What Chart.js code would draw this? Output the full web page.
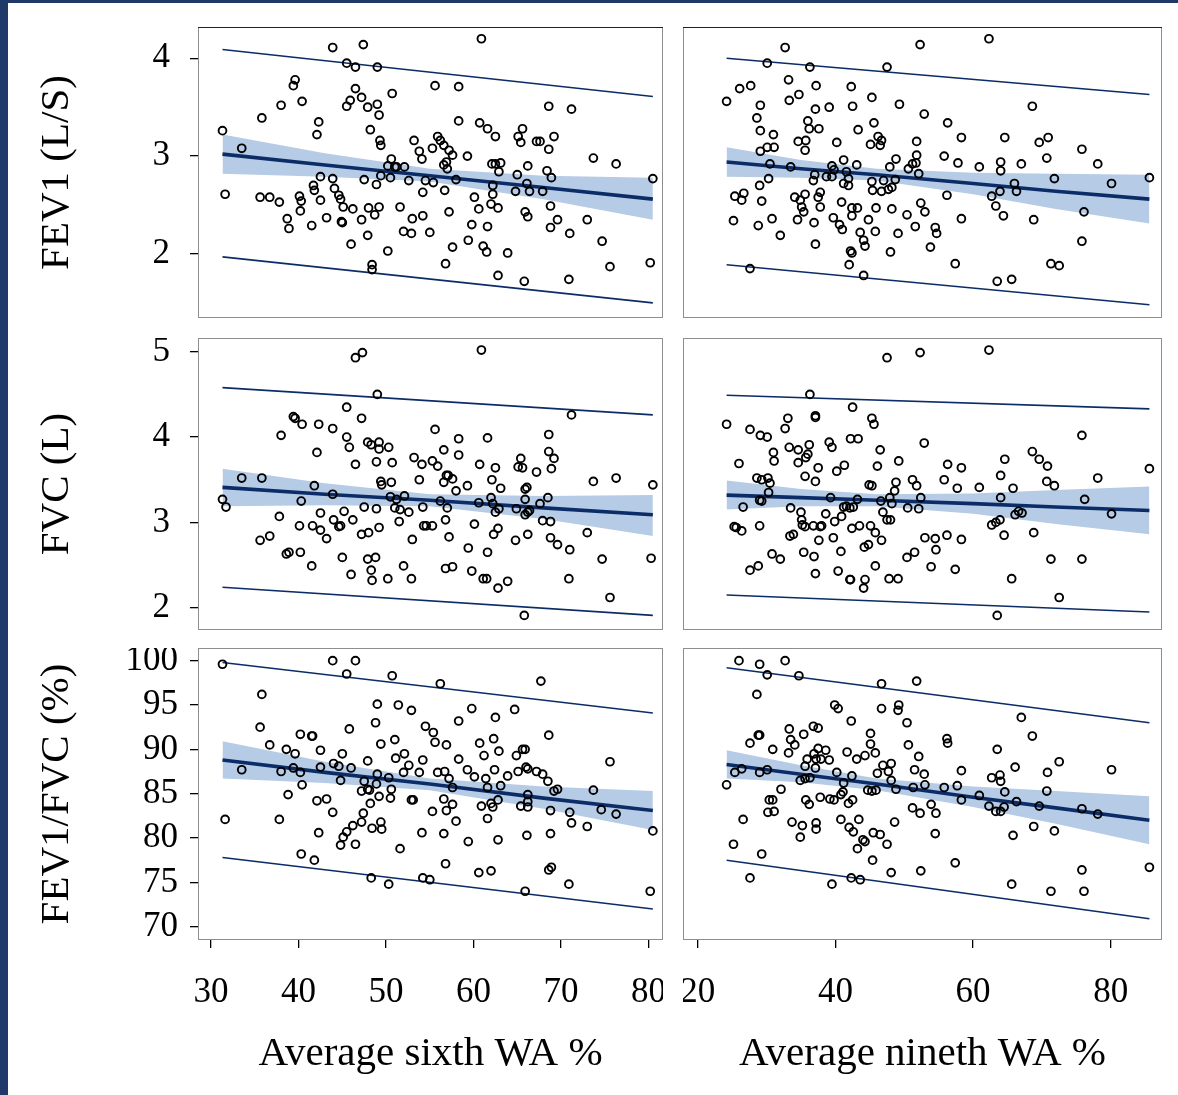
<!DOCTYPE html>
<html>
<head>
<meta charset="utf-8">
<title>FEV1, FVC and FEV1/FVC against airway wall area</title>
<script src="https://cdn.jsdelivr.net/npm/chart.js@4.4.1/dist/chart.umd.min.js"></script>
<style>
  html, body { margin: 0; padding: 0; background: #fff; }
  #sheet { position: relative; width: 1178px; height: 1095px; overflow: hidden; background: #fff; }
  #sheet canvas { position: absolute; }
  .rim { position: absolute; background: #1f3a68; }
</style>
</head>
<body>
<div id="sheet">
  <div class="rim" style="left:0;top:0;width:1178px;height:3px"></div>
  <div class="rim" style="left:0;top:0;width:8px;height:1095px"></div>
  <canvas id="fev1Sixth"   width="653" height="291" style="left:10px;top:27px"></canvas>
  <canvas id="fev1Nineth"  width="479" height="291" style="left:683px;top:27px"></canvas>
  <canvas id="fvcSixth"    width="653" height="292" style="left:10px;top:338px"></canvas>
  <canvas id="fvcNineth"   width="479" height="292" style="left:683px;top:338px"></canvas>
  <canvas id="ratioSixth"  width="653" height="447" style="left:10px;top:648px"></canvas>
  <canvas id="ratioNineth" width="479" height="447" style="left:683px;top:648px"></canvas>
</div>
<script>
// ---- axis ticks and ranges ----
const sixthTicks  = [30, 40, 50, 60, 70, 80];
const ninethTicks = [20, 40, 60, 80];
const fev1Ticks   = [2, 3, 4];
const fvcTicks    = [2, 3, 4, 5];
const ratioTicks  = [70, 75, 80, 85, 90, 95, 100];

const sixthRange  = [28.5, 81.66];
const ninethRange = [17.87, 87.43];
const fev1Range   = [1.345, 4.32];
const fvcRange    = [1.739, 5.161];
const ratioRange  = [68.5, 101.43];

// x span of the fitted lines (observed min / max WA %)
const sixthLineX  = [31.3, 80.5];
const ninethLineX = [24.2, 85.6];

// ---- FEV1 vs sixth-generation WA % ----
const fev1SixthPoints = [
  [43.9,4.11],[47.4,4.14],[45.5,3.95],[46.5,3.91],[49.0,3.91],[39.6,3.78],[39.4,3.72],[46.5,3.69],[50.7,3.64],[47.2,3.60],
  [45.9,3.57],[40.4,3.56],[45.5,3.51],[47.9,3.50],[49.0,3.53],[38.0,3.52],[49.2,3.42],[35.8,3.39],[42.3,3.35],[48.2,3.27],
  [42.1,3.22],[31.3,3.26],[49.3,3.16],[49.4,3.11],[53.2,3.16],[53.8,3.05],[54.1,2.97],[33.5,3.08],[50.6,2.97],[50.2,2.90],
  [51.0,2.89],[51.2,2.89],[52.1,2.89],[42.5,2.79],[43.9,2.77],[47.5,2.76],[49.4,2.80],[50.5,2.78],[52.6,2.75],[54.5,2.75],
  [48.9,2.71],[41.7,2.70],[41.8,2.65],[44.1,2.67],[44.6,2.60],[44.8,2.56],[45.1,2.48],[31.6,2.61],[35.6,2.58],[36.7,2.58],
  [37.8,2.53],[40.1,2.59],[40.3,2.54],[42.5,2.55],[40.2,2.44],[46.2,2.46],[48.0,2.47],[49.2,2.48],[48.7,2.40],[51.6,2.48],
  [54.2,2.63],[38.7,2.36],[38.9,2.26],[41.5,2.29],[43.2,2.37],[44.9,2.33],[45.0,2.32],[47.2,2.35],[47.9,2.19],[52.0,2.23],
  [52.9,2.21],[53.0,2.36],[54.2,2.39],[55.0,2.22],[46.0,2.10],[50.2,2.03],[48.4,1.89],[48.4,1.84],
  [60.9,4.20],[55.6,3.72],[58.3,3.71],[68.6,3.51],[71.2,3.48],[58.3,3.36],[60.7,3.34],[61.6,3.28],[62.5,3.20],[65.6,3.28],
  [65.1,3.20],[65.4,3.14],[67.2,3.15],[67.6,3.15],[69.2,3.20],[68.6,3.07],[55.9,3.20],[56.2,3.16],[56.6,3.11],[55.3,3.08],
  [57.2,3.06],[57.6,3.01],[59.3,3.00],[56.9,2.94],[56.6,2.91],[57.0,2.87],[73.7,2.98],[76.3,2.92],[62.1,2.92],[62.5,2.92],
  [63.1,2.93],[62.9,2.84],[66.2,2.90],[65.0,2.81],[68.4,2.85],[68.9,2.78],[80.5,2.77],[58.0,2.76],[55.4,2.73],[56.7,2.65],
  [62.2,2.70],[62.2,2.61],[62.0,2.51],[62.8,2.47],[60.1,2.58],[60.6,2.46],[66.1,2.72],[66.4,2.64],[64.8,2.64],[67.9,2.64],
  [68.8,2.49],[57.2,2.43],[65.9,2.43],[66.2,2.38],[69.6,2.35],[68.8,2.27],[71.0,2.21],[73.0,2.35],[74.7,2.13],[59.8,2.30],
  [61.6,2.28],[59.4,2.14],[61.1,2.08],[61.5,2.02],[63.9,2.01],[57.6,2.07],[56.8,1.90],[62.8,1.78],[65.8,1.72],[70.9,1.74],
  [75.6,1.87],[80.2,1.91]
];
const fev1SixthBandX    = [31.3, 43, 55, 68, 80.5];
const fev1SixthFit      = [3.02, 2.91, 2.80, 2.68, 2.56];
const fev1SixthBandLow  = [2.82, 2.79, 2.74, 2.56, 2.35];
const fev1SixthBandHigh = [3.22, 3.03, 2.87, 2.80, 2.78];
const fev1SixthPredHigh = [4.09, 3.61];
const fev1SixthPredLow  = [1.97, 1.50];

// ---- FEV1 vs ninth-generation WA % ----
const fev1NinethPoints = [
  [32.7,4.11],[30.1,3.95],[36.3,3.91],[47.5,3.91],[33.2,3.78],[37.2,3.72],[26.1,3.69],[27.7,3.72],[24.2,3.56],[33.3,3.57],
  [34.7,3.63],[42.3,3.71],[45.3,3.60],[29.1,3.52],[37.1,3.48],[39.1,3.50],[42.5,3.51],[49.3,3.53],[28.6,3.39],[29.1,3.26],
  [31.0,3.22],[36.0,3.36],[36.2,3.28],[37.6,3.28],[43.3,3.27],[45.6,3.34],[34.6,3.15],[35.7,3.16],[35.6,3.06],[40.2,3.14],
  [46.2,3.20],[46.7,3.16],[45.1,3.12],[46.5,3.11],[29.1,3.05],[30.1,3.09],[31.1,3.09],[30.5,2.92],[33.5,2.89],[30.3,2.77],
  [29.0,2.70],[41.2,2.96],[43.1,2.91],[39.5,2.90],[39.8,2.86],[41.6,2.84],[38.7,2.79],[39.5,2.79],[37.0,2.81],[36.8,2.75],
  [41.2,2.72],[41.9,2.77],[41.9,2.70],[45.3,2.74],[47.0,2.75],[48.7,2.76],[47.9,2.89],[48.8,2.97],[50.6,2.87],[51.2,2.92],
  [45.4,2.65],[46.7,2.64],[47.7,2.66],[48.2,2.68],[25.4,2.59],[26.7,2.62],[26.4,2.55],[29.3,2.54],[34.1,2.58],[34.9,2.55],
  [35.6,2.61],[35.1,2.48],[35.4,2.43],[37.5,2.58],[37.8,2.63],[37.8,2.48],[40.9,2.53],[42.4,2.47],[43.2,2.47],[45.9,2.47],
  [48.2,2.46],[25.2,2.34],[28.8,2.29],[30.8,2.36],[32.0,2.19],[34.5,2.35],[36.9,2.32],[39.7,2.37],[40.6,2.30],[41.0,2.25],
  [42.4,2.39],[43.6,2.22],[44.8,2.35],[45.8,2.23],[44.1,2.14],[44.3,2.08],[42.2,2.03],[42.4,2.01],[37.1,2.10],[48.0,2.02],
  [50.4,2.40],[49.1,2.21],[42.0,1.89],[44.1,1.78],[27.6,1.85],
  [52.3,4.14],[62.3,4.20],[52.9,3.43],[56.3,3.34],[58.3,3.19],[64.6,3.19],[68.6,3.51],[69.6,3.14],[70.9,3.19],[75.8,3.07],
  [78.1,2.92],[51.8,3.15],[51.8,3.01],[51.7,2.93],[52.1,2.82],[55.8,3.00],[57.8,2.93],[60.9,2.89],[64.0,2.94],[64.0,2.85],
  [67.0,2.92],[70.7,2.98],[71.8,2.77],[80.1,2.72],[85.6,2.78],[66.0,2.72],[66.3,2.64],[63.9,2.64],[62.7,2.59],[63.3,2.49],
  [64.4,2.39],[56.2,2.60],[52.4,2.52],[53.0,2.43],[51.6,2.28],[54.5,2.27],[54.7,2.21],[53.8,2.07],[58.3,2.36],[68.8,2.35],
  [76.1,2.43],[75.8,2.13],[57.4,1.90],[71.3,1.90],[72.5,1.88],[63.5,1.72],[65.6,1.74]
];
const fev1NinethBandX    = [24.2, 35, 46, 60, 72, 85.6];
const fev1NinethFit      = [2.94, 2.87, 2.81, 2.72, 2.64, 2.56];
const fev1NinethBandLow  = [2.79, 2.78, 2.75, 2.61, 2.46, 2.31];
const fev1NinethBandHigh = [3.09, 2.96, 2.87, 2.83, 2.82, 2.81];
const fev1NinethPredHigh = [4.00, 3.63];
const fev1NinethPredLow  = [1.89, 1.48];

// ---- FVC vs sixth-generation WA % ----
const fvcSixthPoints = [
  [46.5,4.93],[47.3,4.99],[49.0,4.50],[45.5,4.35],[47.2,4.22],[39.4,4.24],[39.6,4.22],[40.4,4.15],[42.3,4.15],[43.9,4.10],
  [38.0,4.02],[45.5,4.00],[45.8,3.88],[47.9,3.94],[48.3,3.91],[49.2,3.94],[49.2,3.86],[50.3,3.88],[42.1,3.82],[46.5,3.68],
  [48.9,3.71],[50.7,3.70],[53.2,3.76],[54.1,3.68],[53.8,3.50],[33.5,3.52],[35.8,3.52],[41.8,3.43],[43.9,3.33],[49.4,3.48],
  [49.5,3.44],[50.6,3.47],[50.5,3.30],[51.2,3.27],[52.1,3.31],[31.3,3.27],[31.7,3.18],[40.3,3.25],[42.5,3.11],[45.2,3.13],
  [47.5,3.18],[48.9,3.16],[51.0,3.17],[51.6,3.15],[52.6,3.12],[54.2,3.18],[37.8,3.07],[44.0,3.03],[46.2,3.03],[51.5,3.01],
  [40.1,2.96],[41.6,2.96],[42.5,2.91],[43.2,2.81],[44.6,2.95],[44.8,2.96],[47.2,2.86],[48.0,2.88],[49.2,2.94],[53.0,2.80],
  [54.3,2.96],[54.6,2.96],[35.6,2.79],[36.7,2.84],[38.6,2.63],[38.9,2.65],[40.2,2.65],[41.5,2.49],[45.0,2.59],[47.9,2.57],
  [48.8,2.59],[48.3,2.44],[48.4,2.32],[46.0,2.39],[50.2,2.34],[52.0,2.49],[52.9,2.34],
  [60.9,5.02],[71.2,4.26],[55.6,4.09],[58.3,3.98],[61.6,3.99],[68.6,4.03],[56.6,3.85],[58.3,3.79],[68.6,3.83],[69.2,3.75],
  [68.9,3.63],[55.3,3.72],[55.9,3.66],[60.7,3.68],[62.5,3.64],[65.4,3.75],[65.1,3.65],[65.6,3.64],[67.2,3.59],[56.9,3.55],
  [57.1,3.55],[57.6,3.51],[56.6,3.47],[58.0,3.37],[59.3,3.43],[62.1,3.50],[63.1,3.40],[66.1,3.41],[65.9,3.39],[73.7,3.48],
  [76.3,3.52],[80.5,3.44],[56.2,3.25],[57.0,3.17],[60.6,3.23],[62.0,3.29],[62.2,3.22],[62.9,3.16],[62.5,3.12],[64.9,3.16],
  [65.9,3.27],[67.6,3.22],[68.5,3.29],[65.9,3.09],[66.2,3.12],[66.4,3.14],[67.9,3.02],[68.8,3.01],[55.3,2.96],[56.8,3.03],
  [60.1,2.98],[62.8,2.93],[62.3,2.86],[66.2,2.86],[57.2,2.83],[68.8,2.82],[69.6,2.74],[71.0,2.68],[73.0,2.88],[64.8,2.79],
  [59.4,2.70],[61.6,2.65],[74.7,2.57],[80.3,2.58],[56.8,2.46],[57.6,2.48],[59.8,2.43],[61.1,2.34],[61.5,2.34],[62.8,2.23],
  [63.9,2.31],[70.9,2.34],[75.6,2.12],[65.8,1.91]
];
const fvcSixthBandX    = [31.3, 43, 55, 68, 80.5];
const fvcSixthFit      = [3.41, 3.33, 3.26, 3.17, 3.09];
const fvcSixthBandLow  = [3.19, 3.20, 3.19, 3.04, 2.84];
const fvcSixthBandHigh = [3.63, 3.46, 3.33, 3.31, 3.32];
const fvcSixthPredHigh = [4.58, 4.26];
const fvcSixthPredLow  = [2.24, 1.91];

// ---- FVC vs ninth-generation WA % ----
const fvcNinethPoints = [
  [47.5,4.93],[36.3,4.50],[37.1,4.25],[37.1,4.23],[42.5,4.35],[45.3,4.22],[45.6,4.15],[33.1,4.22],[32.7,4.10],[24.2,4.15],
  [27.6,4.09],[29.1,4.02],[30.1,4.00],[33.3,3.88],[34.6,3.85],[36.2,3.91],[36.0,3.80],[35.7,3.76],[39.1,3.94],[39.5,3.88],
  [42.2,3.98],[43.3,3.98],[46.5,3.85],[31.0,3.82],[31.1,3.72],[26.0,3.69],[34.6,3.70],[37.5,3.64],[40.2,3.60],[41.3,3.67],
  [46.1,3.66],[49.2,3.72],[35.6,3.54],[37.1,3.48],[28.6,3.52],[29.3,3.50],[30.2,3.52],[30.5,3.46],[30.3,3.35],[29.0,3.26],
  [29.3,3.25],[26.6,3.18],[44.9,3.44],[45.3,3.43],[48.8,3.47],[48.6,3.37],[51.2,3.50],[39.3,3.29],[43.2,3.27],[41.2,3.18],
  [41.6,3.19],[42.1,3.17],[42.6,3.18],[46.6,3.25],[47.9,3.29],[48.2,3.22],[50.5,3.17],[33.5,3.17],[35.0,3.12],[38.6,3.10],
  [46.9,3.12],[35.1,3.03],[35.2,2.97],[35.6,2.95],[36.8,2.96],[37.8,2.95],[38.0,2.96],[39.9,3.01],[40.9,3.07],[47.5,3.03],
  [48.0,3.03],[25.3,2.95],[25.6,2.94],[26.4,2.90],[29.0,2.96],[33.4,2.84],[33.9,2.86],[37.6,2.79],[39.7,2.82],[42.4,2.93],
  [43.5,2.96],[45.1,2.96],[45.8,2.88],[46.7,2.79],[40.8,2.66],[44.2,2.71],[44.8,2.74],[35.4,2.65],[36.9,2.60],[30.8,2.63],
  [32.0,2.57],[27.6,2.44],[28.8,2.49],[37.1,2.40],[40.4,2.43],[42.1,2.33],[42.2,2.33],[44.3,2.33],[44.1,2.23],[45.8,2.49],
  [47.8,2.34],[49.1,2.34],[50.4,2.59],[51.5,2.65],
  [52.3,4.99],[62.3,5.02],[52.9,3.93],[75.8,4.02],[56.3,3.68],[58.3,3.64],[55.8,3.50],[57.7,3.40],[60.9,3.41],[64.6,3.74],
  [64.0,3.55],[65.8,3.40],[68.6,3.83],[69.6,3.74],[70.8,3.66],[70.7,3.48],[71.8,3.43],[78.1,3.52],[85.6,3.63],[51.8,3.43],
  [52.4,3.29],[52.1,3.16],[64.0,3.29],[66.1,3.09],[66.6,3.13],[67.1,3.11],[76.2,3.27],[80.1,3.10],[62.7,2.97],[63.3,3.00],
  [63.9,3.03],[64.5,2.85],[68.8,2.88],[53.0,2.82],[54.5,2.81],[56.2,2.85],[58.3,2.80],[54.6,2.68],[53.9,2.48],[57.4,2.45],
  [71.3,2.57],[75.8,2.57],[65.6,2.34],[72.5,2.12],[63.5,1.91]
];
const fvcNinethBandX    = [24.2, 35, 46, 60, 72, 85.6];
const fvcNinethFit      = [3.32, 3.29, 3.26, 3.22, 3.18, 3.14];
const fvcNinethBandLow  = [3.15, 3.19, 3.19, 3.10, 2.98, 2.86];
const fvcNinethBandHigh = [3.49, 3.39, 3.33, 3.34, 3.38, 3.42];
const fvcNinethPredHigh = [4.49, 4.33];
const fvcNinethPredLow  = [2.15, 1.95];

// ---- FEV1/FVC vs sixth-generation WA % ----
const ratioSixthPoints = [
  [31.3,99.6],[43.9,100.0],[46.5,100.0],[45.5,98.5],[50.7,98.3],[35.8,96.2],[49.0,95.1],[51.4,95.0],[52.9,94.4],[48.8,93.0],
  [35.6,92.5],[45.8,92.3],[54.5,92.6],[40.2,91.7],[41.5,91.5],[41.6,91.5],[36.7,90.5],[49.4,90.6],[51.0,91.1],[38.6,90.0],
  [39.6,89.5],[42.5,89.9],[45.0,89.5],[47.9,88.7],[51.1,89.0],[52.1,89.5],[54.2,88.8],[33.5,87.7],[38.0,87.5],[39.4,87.9],
  [40.2,87.4],[42.5,88.0],[44.0,88.4],[44.6,88.1],[46.0,87.9],[52.6,88.2],[52.0,87.4],[53.8,87.4],[49.0,87.2],[48.9,86.1],
  [50.3,86.8],[47.5,86.4],[47.2,85.3],[47.9,85.5],[48.1,85.4],[44.8,86.5],[40.4,86.0],[38.8,84.9],[50.6,85.5],[50.5,84.5],
  [49.2,84.7],[48.2,83.9],[52.9,84.3],[53.1,84.3],[42.1,84.2],[43.2,84.4],[43.9,82.9],[47.4,82.8],[47.2,81.8],[46.2,81.4],
  [48.4,81.1],[49.4,81.8],[49.5,81.0],[31.6,82.1],[37.8,82.1],[42.3,80.6],[45.5,80.7],[45.1,80.1],[44.8,79.2],[46.5,79.3],
  [51.6,78.8],[54.1,80.6],[40.3,78.2],[41.8,77.5],[48.3,75.5],[50.3,74.8],[54.2,75.5],[55.0,75.3],
  [56.2,97.4],[67.7,97.7],[59.8,94.6],[64.7,94.5],[58.3,93.2],[62.5,93.6],[55.4,91.9],[55.6,90.8],[56.9,90.5],[60.7,90.7],
  [62.3,91.2],[61.2,89.3],[62.9,89.8],[65.6,90.0],[65.9,90.0],[64.9,89.3],[68.6,91.6],[75.6,88.6],[58.3,88.9],[55.9,87.4],
  [56.7,87.5],[57.2,86.7],[57.6,85.7],[59.3,87.7],[60.1,86.9],[61.4,86.7],[62.4,87.7],[63.9,87.0],[65.1,87.5],[66.0,88.0],
  [66.2,87.8],[67.2,87.5],[67.9,87.2],[68.5,86.4],[69.2,85.3],[69.6,85.5],[61.6,85.7],[63.1,85.9],[73.7,85.4],[56.6,84.4],
  [57.6,83.8],[56.9,83.1],[55.3,83.0],[58.0,81.9],[60.9,83.6],[62.0,83.9],[62.2,83.5],[62.8,84.3],[61.6,82.2],[65.4,83.6],
  [66.2,84.9],[66.2,84.1],[66.2,83.5],[68.8,83.1],[71.0,82.9],[71.2,81.7],[74.6,83.2],[76.3,82.7],[73.0,81.3],[80.5,80.8],
  [56.6,80.5],[59.4,79.6],[62.8,79.8],[66.1,80.3],[68.8,80.5],[56.8,77.1],[60.6,76.1],[62.0,76.3],[68.6,76.4],[68.9,76.7],
  [70.9,74.8],[65.9,74.0],[80.2,74.0]
];
const ratioSixthBandX    = [31.3, 43, 55, 68, 80.5];
const ratioSixthFit      = [88.8, 87.4, 86.1, 84.5, 83.1];
const ratioSixthBandLow  = [86.7, 86.2, 85.4, 83.3, 80.9];
const ratioSixthBandHigh = [90.9, 88.6, 86.7, 85.8, 85.3];
const ratioSixthPredHigh = [99.8, 94.1];
const ratioSixthPredLow  = [77.8, 72.0];

// ---- FEV1/FVC vs ninth-generation WA % ----
const ratioNinethPoints = [
  [26.0,100.0],[29.0,99.6],[32.7,100.0],[30.1,98.4],[34.7,98.3],[28.6,96.2],[46.7,97.4],[39.9,95.0],[40.4,94.6],[46.7,94.6],
  [49.2,95.0],[49.1,94.4],[42.3,93.2],[50.4,93.0],[33.3,92.3],[35.4,91.7],[36.8,92.6],[37.5,92.4],[33.5,91.1],[34.1,90.5],
  [27.6,90.7],[28.8,91.6],[29.0,91.6],[30.9,90.0],[33.2,89.6],[37.5,90.1],[38.6,89.9],[36.9,89.5],[35.9,88.9],[37.2,88.9],
  [37.9,88.9],[39.1,88.8],[45.1,91.8],[45.1,90.6],[41.7,89.7],[43.1,88.9],[44.3,89.3],[45.8,89.6],[50.6,90.5],[35.6,88.1],
  [37.1,87.9],[46.9,88.2],[48.1,88.4],[47.7,87.5],[48.1,86.5],[46.1,87.3],[51.5,87.7],[25.4,87.4],[26.4,87.8],[29.0,87.4],
  [30.1,87.7],[24.2,86.0],[34.9,86.5],[35.6,86.7],[36.3,86.8],[40.2,87.4],[42.4,87.0],[41.2,86.2],[41.1,85.2],[44.7,85.4],
  [45.3,85.3],[45.9,85.4],[48.8,85.5],[51.3,85.7],[32.1,85.5],[30.4,84.3],[30.9,84.3],[30.2,82.9],[31.1,83.0],[35.7,84.3],
  [36.2,83.8],[37.8,84.6],[39.2,84.4],[39.8,84.3],[40.8,84.9],[41.9,83.9],[42.5,84.3],[51.2,83.4],[26.6,82.1],[33.7,81.8],
  [35.2,81.4],[37.2,81.7],[37.2,81.0],[40.8,82.1],[42.0,81.2],[42.6,80.7],[43.4,82.1],[45.5,80.6],[46.5,80.4],[48.6,81.8],
  [34.9,80.1],[44.0,79.8],[44.3,79.6],[43.2,78.8],[47.5,79.3],[45.4,77.5],[25.2,79.3],[29.3,78.2],[27.6,75.5],[39.5,74.8],
  [42.3,75.5],[43.6,75.3],[48.1,76.1],
  [51.8,97.7],[67.0,93.6],[68.6,91.5],[56.2,91.2],[56.3,90.7],[52.1,89.2],[63.5,90.0],[66.1,88.0],[72.5,88.6],[80.1,87.7],
  [52.9,87.2],[58.3,87.6],[62.7,86.8],[63.9,87.1],[64.0,86.4],[64.6,85.2],[70.8,87.4],[70.7,85.3],[53.0,86.0],[55.8,85.7],
  [57.7,85.9],[58.3,84.3],[60.9,84.8],[62.3,83.6],[63.3,83.0],[64.0,83.0],[64.5,83.5],[66.3,84.1],[69.6,83.6],[75.8,83.3],
  [78.1,82.7],[52.3,82.8],[53.9,83.8],[54.6,82.8],[54.5,80.5],[65.8,80.3],[68.8,81.3],[71.8,80.8],[57.4,77.2],[52.4,76.3],
  [75.8,76.4],[76.1,74.0],[65.6,74.8],[71.3,74.0],[85.6,76.7]
];
const ratioNinethBandX    = [24.2, 35, 46, 60, 72, 85.6];
const ratioNinethFit      = [88.3, 87.2, 86.1, 84.6, 83.4, 82.0];
const ratioNinethBandLow  = [86.7, 86.3, 85.4, 83.5, 81.6, 79.3];
const ratioNinethBandHigh = [89.9, 88.2, 86.7, 85.8, 85.3, 84.7];
const ratioNinethPredHigh = [99.2, 93.0];
const ratioNinethPredLow  = [77.5, 70.9];

// ---- styling ----
const SERIF = '"Liberation Serif", "Times New Roman", serif';
const NAVY = '#0b2c66';
const BAND = 'rgb(182, 203, 229)';
const tickFont = { family: SERIF, size: 35 };
const titleFont = { family: SERIF, size: 41 };

// grey box round each plotting area
const panelFrame = {
  id: 'panelFrame',
  afterDraw(chart, args, opts) {
    const { ctx, chartArea: a } = chart;
    ctx.save();
    ctx.lineWidth = 1;
    ctx.strokeStyle = opts.color;
    ctx.strokeRect(a.left + 0.5, a.top + 0.5, a.width - 1, a.height - 1);
    if (opts.topColor) {
      ctx.strokeStyle = opts.topColor;
      ctx.beginPath();
      ctx.moveTo(a.left, a.top + 0.5);
      ctx.lineTo(a.right, a.top + 0.5);
      ctx.stroke();
    }
    ctx.restore();
  }
};

const zip = (xs, ys) => xs.map((x, i) => ({ x, y: ys[i] }));

function lineSet(xs, ys, width) {
  return {
    type: 'line', data: zip(xs, ys), borderColor: NAVY, borderWidth: width,
    pointRadius: 0, tension: 0, fill: false
  };
}

// hidden axes must take no room, otherwise the fixed sizes below eat the plot
function xAxis(range, ticks, title, show) {
  return {
    type: 'linear', min: range[0], max: range[1], display: show,
    afterBuildTicks: s => { s.ticks = ticks.map(v => ({ value: v })); },
    afterFit: s => {
      s.height = show ? 155 : 0;
      s.paddingLeft = 0; s.paddingRight = 0;
    },
    grid: { drawOnChartArea: false, drawTicks: true, tickLength: 8, color: '#000', lineWidth: 1.3 },
    border: { display: false },
    ticks: { font: tickFont, color: '#000', padding: 24, maxRotation: 0, autoSkip: false },
    title: { display: show, text: title, font: titleFont, color: '#000', padding: { top: 0, bottom: 16 } }
  };
}

function yAxis(range, ticks, title, show, labelGap) {
  return {
    type: 'linear', min: range[0], max: range[1], display: show,
    afterBuildTicks: s => { s.ticks = ticks.map(v => ({ value: v })); },
    afterFit: s => {
      s.width = show ? 188 : 0;
      s.paddingTop = 0; s.paddingBottom = 0;
    },
    grid: { drawOnChartArea: false, drawTicks: true, tickLength: 8, color: '#000', lineWidth: 1.3 },
    border: { display: false },
    ticks: { font: tickFont, color: '#000', padding: labelGap || 12, autoSkip: false },
    title: { display: show, text: title, font: titleFont, color: '#000', padding: { top: 23, bottom: 0 } }
  };
}

function drawPanel(id, p) {
  new Chart(document.getElementById(id), {
    type: 'scatter',
    data: {
      datasets: [
        {
          data: p.points.map(([x, y]) => ({ x, y })),
          pointRadius: 3.9, pointBorderWidth: 1.9, pointBorderColor: '#000',
          pointBackgroundColor: 'rgba(0,0,0,0)'
        },
        lineSet(p.bandX, p.fit, 3.6),
        lineSet(p.lineX, p.predHigh, 1.6),
        lineSet(p.lineX, p.predLow, 1.6),
        {
          type: 'line', data: zip(p.bandX, p.bandHigh), borderWidth: 0, borderColor: 'rgba(0,0,0,0)',
          pointRadius: 0, tension: 0, fill: '+1', backgroundColor: BAND
        },
        {
          type: 'line', data: zip(p.bandX, p.bandLow), borderWidth: 0, borderColor: 'rgba(0,0,0,0)',
          pointRadius: 0, tension: 0, fill: false
        }
      ]
    },
    options: {
      responsive: false, animation: false, events: [],
      layout: { padding: 0, autoPadding: false },
      scales: { x: p.x, y: p.y },
      plugins: {
        legend: { display: false }, tooltip: { enabled: false },
        panelFrame: { color: '#8e8e8e', topColor: p.topColor }
      }
    },
    plugins: [panelFrame]
  });
}

drawPanel('fev1Sixth', {
  points: fev1SixthPoints, bandX: fev1SixthBandX, fit: fev1SixthFit,
  bandLow: fev1SixthBandLow, bandHigh: fev1SixthBandHigh,
  lineX: sixthLineX, predHigh: fev1SixthPredHigh, predLow: fev1SixthPredLow,
  x: xAxis(sixthRange, sixthTicks, '', false),
  y: yAxis(fev1Range, fev1Ticks, 'FEV1 (L/S)', true, 20), topColor: '#222'
});
drawPanel('fev1Nineth', {
  points: fev1NinethPoints, bandX: fev1NinethBandX, fit: fev1NinethFit,
  bandLow: fev1NinethBandLow, bandHigh: fev1NinethBandHigh,
  lineX: ninethLineX, predHigh: fev1NinethPredHigh, predLow: fev1NinethPredLow,
  x: xAxis(ninethRange, ninethTicks, '', false),
  y: yAxis(fev1Range, fev1Ticks, '', false), topColor: '#222'
});
drawPanel('fvcSixth', {
  points: fvcSixthPoints, bandX: fvcSixthBandX, fit: fvcSixthFit,
  bandLow: fvcSixthBandLow, bandHigh: fvcSixthBandHigh,
  lineX: sixthLineX, predHigh: fvcSixthPredHigh, predLow: fvcSixthPredLow,
  x: xAxis(sixthRange, sixthTicks, '', false),
  y: yAxis(fvcRange, fvcTicks, 'FVC (L)', true, 20)
});
drawPanel('fvcNineth', {
  points: fvcNinethPoints, bandX: fvcNinethBandX, fit: fvcNinethFit,
  bandLow: fvcNinethBandLow, bandHigh: fvcNinethBandHigh,
  lineX: ninethLineX, predHigh: fvcNinethPredHigh, predLow: fvcNinethPredLow,
  x: xAxis(ninethRange, ninethTicks, '', false),
  y: yAxis(fvcRange, fvcTicks, '', false)
});
drawPanel('ratioSixth', {
  points: ratioSixthPoints, bandX: ratioSixthBandX, fit: ratioSixthFit,
  bandLow: ratioSixthBandLow, bandHigh: ratioSixthBandHigh,
  lineX: sixthLineX, predHigh: ratioSixthPredHigh, predLow: ratioSixthPredLow,
  x: xAxis(sixthRange, sixthTicks, 'Average sixth WA %', true),
  y: yAxis(ratioRange, ratioTicks, 'FEV1/FVC (%)', true, 12)
});
drawPanel('ratioNineth', {
  points: ratioNinethPoints, bandX: ratioNinethBandX, fit: ratioNinethFit,
  bandLow: ratioNinethBandLow, bandHigh: ratioNinethBandHigh,
  lineX: ninethLineX, predHigh: ratioNinethPredHigh, predLow: ratioNinethPredLow,
  x: xAxis(ninethRange, ninethTicks, 'Average nineth WA %', true),
  y: yAxis(ratioRange, ratioTicks, '', false)
});
</script>
</body>
</html>
